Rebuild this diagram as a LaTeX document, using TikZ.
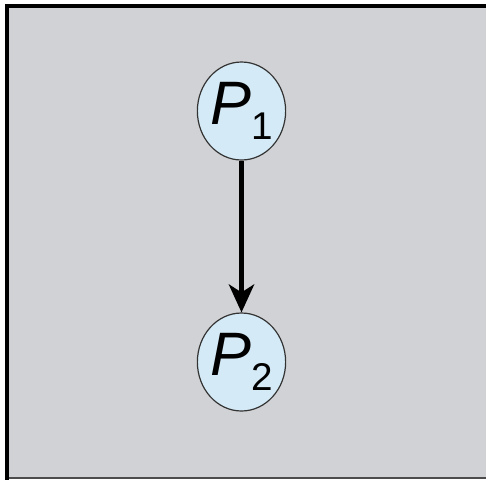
\documentclass[tikz,border=0pt]{standalone}
\usepackage{fontspec}
\setmainfont{Liberation Sans}
\usetikzlibrary{shapes.geometric}
\usetikzlibrary{arrows.meta}
\usepackage{xcolor}
\definecolor{panelgray}{RGB}{209,210,213}
\definecolor{procblue}{RGB}{212,234,246}
\newcommand{\procname}[1]{{\fontsize{46}{48}\selectfont\itshape P}\raisebox{-11pt}{\fontsize{29}{31}\selectfont #1}}

\begin{document}
\begin{tikzpicture}[x=0.75pt, y=-0.75pt,
    proc/.style={draw=black!80, line width=0.9pt, ellipse, fill=procblue, inner sep=0pt,
                 minimum width=65pt, minimum height=73.5pt, align=center}]
            \useasboundingbox (0,0) rectangle (486,480);
            % panel
            \fill[panelgray] (7,6) rectangle (486,478);
            \draw[line width=1.2pt, black!70] (7,478) -- (486,478);
            \draw[line width=3pt, line cap=rect] (7,478) -- (7,5.5) -- (486,5.5);
            % processes
            \node[proc] (p1) at (241.5,111) {\procname{1}};
            \node[proc] (p2) at (241.5,362) {\procname{2}};
            
            \draw[-{Stealth[length=21pt,width=19pt,inset=6pt]}, line width=3.2pt] (p1) -- (p2);
        \end{tikzpicture}
\end{document}
